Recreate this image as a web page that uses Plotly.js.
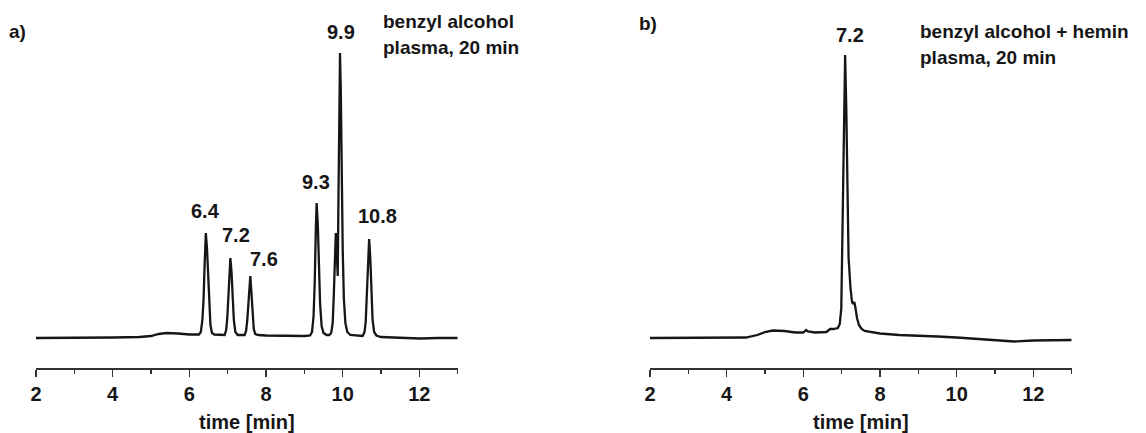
<!DOCTYPE html>
<html>
<head>
<meta charset="utf-8">
<script src="https://cdn.plot.ly/plotly-3.0.1.min.js"></script>
<style>
  html, body { margin: 0; padding: 0; background: #ffffff; }
  #chart { width: 1146px; height: 433px; }
</style>
</head>
<body>
<div id="chart"></div>
<script>
// ---- Data (signal in arbitrary units, baseline = 0) ----
// a) benzyl alcohol, plasma 20 min
const timeA = [2.0, 3.0, 4.0, 4.7, 5.0, 5.2, 5.4, 5.7, 6.0, 6.25,
  6.30, 6.34, 6.37, 6.40, 6.43, 6.46, 6.49, 6.52, 6.55, 6.59, 6.65,
  6.92, 6.96, 6.99, 7.02, 7.05, 7.07, 7.10, 7.13, 7.16, 7.20, 7.26,
  7.44, 7.48, 7.51, 7.54, 7.57, 7.59, 7.62, 7.65, 7.68, 7.72, 7.80,
  8.0, 8.5, 9.0, 9.15, 9.20, 9.24, 9.27, 9.30, 9.32, 9.35, 9.38, 9.41, 9.45, 9.50, 9.58,
  9.65, 9.70, 9.74, 9.77, 9.80, 9.82, 9.84, 9.85, 9.87, 9.89, 9.91, 9.93, 9.95, 9.97,
  10.00, 10.03, 10.07, 10.12, 10.20, 10.52, 10.57, 10.60, 10.63, 10.66, 10.69, 10.72,
  10.75, 10.78, 10.82, 10.88, 11.0, 11.5, 12.0, 12.5, 13.0];
const signalA = [0, 0, 0.5, 1, 2, 4, 5, 4.5, 3.5, 3.5,
  6, 18, 38, 75, 105, 90, 62, 32, 13, 5, 3.5,
  3, 8, 20, 45, 72, 80, 66, 40, 18, 6, 3,
  3, 7, 17, 38, 60, 62, 45, 22, 9, 4, 3,
  2.5, 2, 2, 2.5, 6, 22, 55, 110, 135, 115, 72, 35, 12, 5, 3,
  3, 5, 15, 45, 90, 105, 90, 75, 62, 140, 240, 285, 250, 170,
  90, 40, 15, 6, 3, 2, 6, 16, 42, 80, 99, 80,
  45, 18, 6, 2.5, 1, 0, -0.5, 0, 0];

// b) benzyl alcohol + hemin, plasma 20 min
const timeB = [2.0, 3.0, 4.0, 4.5, 4.8, 5.0, 5.2, 5.5, 5.8, 6.0, 6.07, 6.12, 6.3,
  6.6, 6.70, 6.78, 6.90, 6.95, 6.99, 7.03, 7.06, 7.09, 7.12, 7.15, 7.18, 7.23,
  7.27, 7.30, 7.33, 7.36, 7.40, 7.45, 7.52, 7.6, 7.8, 8.0, 8.5, 9.0, 9.5, 10.0, 10.5,
  11.0, 11.5, 12.0, 12.5, 13.0];
const signalB = [0, 0, 0, 0.5, 3, 6, 7.5, 7, 5.5, 5.5, 8, 6.5, 5.5,
  6, 9, 9, 10, 14, 30, 130, 250, 283, 230, 120, 80, 50,
  36, 34, 36, 30, 20, 13, 9, 7, 6, 4.5, 3, 2.5, 1.5, 0.5, -1,
  -2.5, -3.5, -2.5, -2, -2];

// Peak labels (retention times in min)
const peakLabelsA = ["6.4", "7.2", "7.6", "9.3", "9.9", "10.8"];
const peakLabelsB = ["7.2"];
const panelLabels = ["a)", "b)"];
const sampleA = ["benzyl alcohol", "plasma, 20 min"];
const sampleB = ["benzyl alcohol + hemin", "plasma, 20 min"];
const xTitle = "time [min]";

// ---- Layout helpers (pixel -> paper) ----
const W = 1146, H = 433;
const px = v => v / W;
const py = v => 1 - v / H;

const FONT = "Liberation Sans, Arial, sans-serif";
const INK = "#161616";

const traceA = {
  x: timeA, y: signalA, xaxis: "x", yaxis: "y", type: "scatter", mode: "lines",
  line: {color: INK, width: 2.3}, hoverinfo: "skip", showlegend: false
};
const traceB = {
  x: timeB, y: signalB, xaxis: "x2", yaxis: "y2", type: "scatter", mode: "lines",
  line: {color: INK, width: 2.3}, hoverinfo: "skip", showlegend: false
};

function xAxis(domain, anchor) {
  return {
    domain: domain, anchor: anchor, range: [2, 13], autorange: false,
    tick0: 2, dtick: 2, ticks: "outside", ticklen: 7, tickwidth: 1.5, tickcolor: "#333",
    minor: {ticks: "outside", ticklen: 4, tickwidth: 1.5, tickcolor: "#333", dtick: 1, tick0: 2, showgrid: false},
    showline: true, linecolor: "#333", linewidth: 1.5, showgrid: false, zeroline: false,
    tickfont: {family: FONT, size: 20, color: INK, weight: "bold"},
    ticklabelstandoff: 0,
    title: {text: xTitle, font: {family: FONT, size: 20, color: INK, weight: "bold"}, standoff: 20},
    automargin: false, fixedrange: true
  };
}
function yAxis(anchor) {
  return {
    domain: [py(368.3), py(20)], anchor: anchor, range: [-30.3, 318], autorange: false,
    visible: false, showgrid: false, zeroline: false, fixedrange: true
  };
}

const lblFont = {family: FONT, size: 20, color: INK, weight: "bold"};
const txtFont = {family: FONT, size: 19, color: INK, weight: "bold"};

// label anchor positions (data coords) for each peak label
const posA = [[6.41, 127], [7.21, 103], [7.95, 79], [9.30, 156], [9.96, 306], [10.90, 122]];
const posB = [[7.22, 303]];

const annotations = [];
peakLabelsA.forEach((t, i) => annotations.push({
  text: t, x: posA[i][0], y: posA[i][1], xref: "x", yref: "y",
  showarrow: false, xanchor: "center", yanchor: "middle", font: lblFont
}));
peakLabelsB.forEach((t, i) => annotations.push({
  text: t, x: posB[i][0], y: posB[i][1], xref: "x2", yref: "y2",
  showarrow: false, xanchor: "center", yanchor: "middle", font: lblFont
}));
annotations.push({text: panelLabels[0], x: px(7), y: py(32), xref: "paper", yref: "paper",
  showarrow: false, xanchor: "left", yanchor: "middle", font: txtFont});
annotations.push({text: panelLabels[1], x: px(637), y: py(24), xref: "paper", yref: "paper",
  showarrow: false, xanchor: "left", yanchor: "middle", font: txtFont});
sampleA.forEach((t, i) => annotations.push({text: t, x: px(381), y: py(22 + 25 * i),
  xref: "paper", yref: "paper", showarrow: false, xanchor: "left", yanchor: "middle", font: txtFont}));
sampleB.forEach((t, i) => annotations.push({text: t, x: px(918), y: py(32 + 25 * i),
  xref: "paper", yref: "paper", showarrow: false, xanchor: "left", yanchor: "middle", font: txtFont}));

const layout = {
  width: W, height: H,
  margin: {l: 0, r: 0, t: 0, b: 0, pad: 0},
  paper_bgcolor: "#ffffff", plot_bgcolor: "#ffffff",
  showlegend: false,
  xaxis: xAxis([px(36), px(457.7)], "y"),
  yaxis: yAxis("x"),
  xaxis2: xAxis([px(650), px(1071.7)], "y2"),
  yaxis2: yAxis("x2"),
  annotations: annotations,
  font: {family: FONT, color: INK}
};

Plotly.newPlot("chart", [traceA, traceB], layout, {displayModeBar: false, staticPlot: true});
</script>
</body>
</html>
